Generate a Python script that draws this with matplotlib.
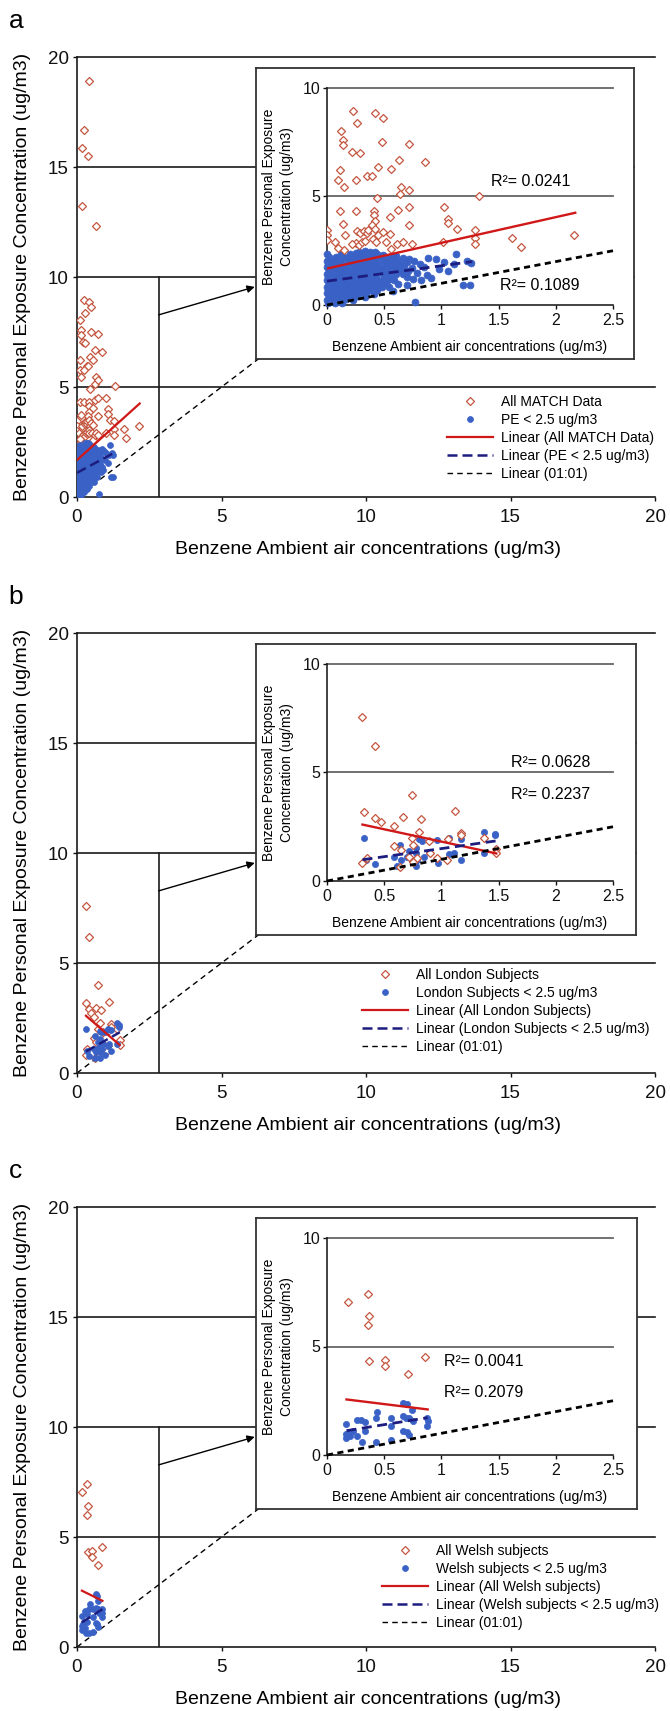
import matplotlib
matplotlib.use('Agg')
import matplotlib.pyplot as plt

plt.rcParams['font.family'] = ['Liberation Sans', 'DejaVu Sans']

W, H = 670, 1711

# ---------------- data ----------------
# Panel a : All MATCH data
a_red = [(0.40, 18.9), (0.23, 16.67), (0.17, 15.88), (0.37, 15.5), (0.17, 13.24), (0.67, 12.34),
         (0.23, 8.94), (0.42, 8.87), (0.49, 8.64), (0.26, 8.38), (0.12, 8.03), (0.14, 7.6), (0.14, 7.37),
         (0.48, 7.52), (0.72, 7.4), (0.22, 7.06), (0.29, 7.0), (0.63, 6.68), (0.86, 6.6), (0.45, 6.38),
         (0.56, 6.25), (0.11, 6.22), (0.35, 5.96), (0.39, 5.96), (0.10, 5.76), (0.25, 5.76), (0.145, 5.46),
         (0.65, 5.46), (0.64, 5.12), (0.72, 5.3), (0.44, 4.92), (1.33, 5.03), (0.11, 4.31), (0.25, 4.31),
         (0.41, 4.31), (0.41, 4.13), (0.62, 4.39), (0.72, 4.51), (1.02, 4.51), (0.14, 3.75), (0.42, 3.85),
         (0.55, 4.04), (1.06, 3.98), (1.06, 3.79), (0.72, 3.67), (1.14, 3.49), (1.29, 3.44), (1.29, 3.09),
         (1.29, 2.81), (0.0, 3.44), (0.0, 3.21), (0.0, 2.98), (1.62, 3.07), (1.70, 2.66), (2.16, 3.22),
         (0.07, 2.9), (0.16, 3.21), (0.26, 3.4), (0.29, 3.3), (0.32, 3.42), (0.35, 3.33), (0.36, 3.45),
         (0.25, 2.86), (0.22, 2.8), (0.28, 2.78), (0.31, 2.9), (0.33, 2.97), (0.39, 3.67), (0.42, 3.52),
         (0.45, 3.21), (0.49, 3.37), (0.55, 3.29), (0.40, 3.06), (0.43, 2.9), (0.52, 2.9), (0.15, 2.52),
         (0.10, 2.63), (0.56, 2.57), (0.61, 2.83), (0.66, 2.9), (0.74, 2.83), (1.01, 2.9)]

a_blue = [(0.28, 2.45), (0.33, 2.47), (0.38, 2.44), (0.42, 2.42),
          (0.0, 2.33), (0.12, 2.36), (0.2, 2.34), (0.25, 2.38), (0.31, 2.35), (0.36, 2.36), (0.44, 2.33),
          (0.49, 2.3), (0.6, 2.28),
          (0.02, 2.2), (0.08, 2.22), (0.15, 2.19), (0.22, 2.21), (0.27, 2.2), (0.34, 2.22), (0.4, 2.18),
          (0.47, 2.2), (0.53, 2.17), (0.58, 2.2), (0.66, 2.15), (0.72, 2.12),
          (0.0, 2.05), (0.05, 2.06), (0.11, 2.04), (0.18, 2.07), (0.24, 2.05), (0.3, 2.03), (0.37, 2.06),
          (0.43, 2.04), (0.5, 2.05), (0.56, 2.02), (0.62, 2.04), (0.7, 2.0), (0.76, 2.01),
          (0.01, 1.9), (0.07, 1.91), (0.13, 1.89), (0.2, 1.92), (0.26, 1.9), (0.33, 1.88), (0.39, 1.91),
          (0.45, 1.9), (0.52, 1.87), (0.59, 1.9), (0.65, 1.86), (0.68, 1.93),
          (0.0, 1.75), (0.04, 1.76), (0.1, 1.74), (0.16, 1.77), (0.23, 1.75), (0.29, 1.73), (0.35, 1.76),
          (0.41, 1.75), (0.48, 1.72), (0.55, 1.75), (0.61, 1.74), (0.67, 1.7), (0.74, 1.72),
          (0.02, 1.6), (0.08, 1.61), (0.14, 1.59), (0.2, 1.62), (0.27, 1.6), (0.32, 1.58), (0.38, 1.61),
          (0.44, 1.6), (0.51, 1.57), (0.57, 1.6), (0.63, 1.58), (0.71, 1.55),
          (0.0, 1.45), (0.05, 1.46), (0.11, 1.44), (0.17, 1.47), (0.24, 1.45), (0.3, 1.43), (0.36, 1.46),
          (0.42, 1.45), (0.49, 1.42), (0.54, 1.45), (0.6, 1.44), (0.66, 1.41),
          (0.01, 1.3), (0.07, 1.31), (0.13, 1.29), (0.19, 1.32), (0.25, 1.3), (0.31, 1.28), (0.37, 1.31),
          (0.43, 1.3), (0.5, 1.27), (0.56, 1.3), (0.7, 1.28),
          (0.0, 1.15), (0.04, 1.16), (0.1, 1.14), (0.16, 1.17), (0.22, 1.15), (0.28, 1.13), (0.34, 1.16),
          (0.4, 1.15), (0.46, 1.12), (0.53, 1.15), (0.59, 1.13), (0.82, 1.14),
          (0.02, 1.0), (0.08, 1.01), (0.14, 0.99), (0.2, 1.02), (0.26, 1.0), (0.32, 0.98), (0.38, 1.01),
          (0.44, 1.0), (0.51, 0.97), (0.62, 0.99),
          (0.0, 0.85), (0.05, 0.86), (0.11, 0.84), (0.17, 0.87), (0.23, 0.85), (0.29, 0.83), (0.35, 0.86),
          (0.41, 0.85), (0.48, 0.82), (0.54, 0.84),
          (0.01, 0.7), (0.07, 0.71), (0.13, 0.69), (0.19, 0.72), (0.25, 0.7), (0.31, 0.68), (0.37, 0.71),
          (0.44, 0.69), (0.58, 0.66),
          (0.0, 0.55), (0.04, 0.56), (0.1, 0.54), (0.16, 0.57), (0.22, 0.55), (0.28, 0.53), (0.34, 0.54),
          (0.41, 0.52),
          (0.02, 0.4), (0.08, 0.41), (0.14, 0.39), (0.2, 0.42), (0.26, 0.4), (0.33, 0.38),
          (0.0, 0.25), (0.05, 0.26), (0.11, 0.24), (0.17, 0.27), (0.23, 0.25),
          (0.01, 0.1), (0.07, 0.11), (0.13, 0.09),
          (0.88, 2.17), (0.87, 1.38), (0.98, 1.68), (1.02, 1.99), (1.06, 1.56), (0.91, 1.25), (1.13, 2.37),
          (1.11, 1.91), (1.19, 0.92), (1.25, 0.92), (0.77, 0.15), (0.79, 1.48), (0.81, 1.91), (1.22, 2.02),
          (1.26, 1.93), (0.75, 1.2), (0.7, 0.9), (0.65, 1.75), (0.85, 1.75), (0.95, 2.1)]

a_red_line_x = [0.0, 2.17]
a_red_line_y = [1.68, 4.25]
a_blue_line_x = [0.0, 1.27]
a_blue_line_y = [1.10, 2.00]
a_r2 = ['R²= 0.0241', 'R²= 0.1089']
a_labels = ['All MATCH Data', 'PE < 2.5 ug/m3', 'Linear (All MATCH Data)',
            'Linear (PE < 2.5 ug/m3)', 'Linear (01:01)']

# Panel b : London subjects
b_red = [(0.31, 7.57), (0.42, 6.2), (0.74, 3.98), (0.32, 3.19), (1.12, 3.24), (0.42, 2.92), (0.47, 2.73),
         (0.66, 2.96), (0.82, 2.85), (0.59, 2.55), (0.80, 2.27), (1.17, 2.23), (1.17, 2.1), (1.37, 1.98),
         (0.74, 1.98), (0.89, 1.85), (0.75, 1.68), (0.59, 1.6), (1.06, 1.92), (0.65, 1.42), (0.90, 1.31),
         (1.48, 1.48), (1.48, 1.27), (0.35, 1.08), (0.31, 0.81), (0.72, 1.11), (0.79, 1.04), (0.75, 0.89),
         (0.96, 1.07), (1.05, 0.99), (0.64, 0.66)]
b_blue = [(0.32, 1.98), (0.34, 0.99), (0.42, 0.79), (0.59, 1.11), (0.64, 1.68), (0.65, 0.96), (0.61, 0.69),
          (0.72, 1.39), (0.78, 1.54), (0.80, 1.92), (0.78, 1.3), (0.79, 0.96), (0.78, 0.70), (0.85, 1.11),
          (0.89, 1.34), (0.96, 1.88), (0.97, 0.84), (1.07, 2.0), (1.07, 1.24), (1.11, 1.3), (1.17, 1.95),
          (1.17, 0.99), (1.37, 2.26), (1.37, 1.3), (1.47, 2.18), (1.47, 2.11), (0.70, 1.11), (0.83, 1.85)]
b_red_line_x = [0.31, 1.48]
b_red_line_y = [2.60, 1.27]
b_blue_line_x = [0.31, 1.48]
b_blue_line_y = [0.98, 1.85]
b_r2 = ['R²= 0.0628', 'R²= 0.2237']
b_labels = ['All London Subjects', 'London Subjects < 2.5 ug/m3', 'Linear (All London Subjects)',
            'Linear (London Subjects < 2.5 ug/m3)', 'Linear (01:01)']

# Panel c : Welsh subjects
c_red = [(0.18, 7.05), (0.36, 7.43), (0.37, 6.39), (0.36, 6.0), (0.37, 4.31), (0.51, 4.36), (0.51, 4.09),
         (0.86, 4.53), (0.71, 3.75)]
c_blue = [(0.17, 1.43), (0.17, 0.96), (0.17, 0.78), (0.20, 0.88), (0.23, 1.12), (0.26, 1.63), (0.26, 0.88),
          (0.30, 1.61), (0.31, 0.62), (0.33, 1.5), (0.33, 1.12), (0.43, 1.71), (0.44, 1.97), (0.43, 0.62),
          (0.56, 1.71), (0.56, 1.35), (0.56, 0.68), (0.66, 2.4), (0.70, 2.33), (0.66, 1.78), (0.69, 1.71),
          (0.74, 2.08), (0.72, 1.71), (0.75, 1.55), (0.70, 1.04), (0.72, 0.93), (0.87, 1.71), (0.88, 1.55),
          (0.87, 1.35), (0.20, 1.04), (0.66, 1.09)]
c_red_line_x = [0.17, 0.88]
c_red_line_y = [2.56, 2.10]
c_blue_line_x = [0.17, 0.88]
c_blue_line_y = [1.12, 1.72]
c_r2 = ['R²= 0.0041', 'R²= 0.2079']
c_labels = ['All Welsh subjects', 'Welsh subjects < 2.5 ug/m3', 'Linear (All Welsh subjects)',
            'Linear (Welsh subjects < 2.5 ug/m3)', 'Linear (01:01)']

one_to_one_main = [0.0, 10.0]
one_to_one_inset = [0.0, 2.5]
main_ticks = [0, 5, 10, 15, 20]
inset_xticks = [0, 0.5, 1, 1.5, 2, 2.5]
inset_yticks = [0, 5, 10]

RED_PT = '#c4573f'
BLUE_PT = '#3a62c6'
RED_LN = '#d01818'
NAVY = '#1d1d80'
GRID = '#1a1a1a'
IGRID = '#666666'

fig = plt.figure(figsize=(W / 100, H / 100), dpi=100)


def px_axes(l, t, r, b, **kw):
    return fig.add_axes([l / W, 1 - b / H, (r - l) / W, (b - t) / H], **kw)


def draw_panel(top, letter, red, blue, rlx, rly, blx, bly, r2, r2pos, labels,
               box_right, cover_right, legend_xy, blue_ms):
    bottom = top + 440
    ax = px_axes(77, top, 655, bottom)
    ax.set_xlim(0, 20)
    ax.set_ylim(0, 20)
    for s in ('top', 'right'):
        ax.spines[s].set_visible(False)
    for s in ('left', 'bottom'):
        ax.spines[s].set_linewidth(1.2)
        ax.spines[s].set_color(GRID)
    ax.set_xticks(main_ticks)
    ax.set_yticks(main_ticks)
    ax.tick_params(axis='both', labelsize=13.5, length=3, width=1, direction='out', colors='#111111')
    ax.tick_params(axis='x', pad=6)
    ax.tick_params(axis='y', pad=3)
    for yv in main_ticks[1:]:
        ax.axhline(yv, color=GRID, lw=1.2, zorder=1, clip_on=False)
    # zoom rectangle edge
    ax.plot([2.83, 2.83], [0, 10], color=GRID, lw=1.2, zorder=1)
    ax.annotate('', xy=(6.15, 9.55), xytext=(2.83, 8.28),
                arrowprops=dict(arrowstyle='-|>', color='black', lw=1.0, mutation_scale=11,
                                shrinkA=0, shrinkB=0))
    rx, ry = zip(*red)
    bx, by = zip(*blue)
    h1, = ax.plot(rx, ry, ls='none', marker='D', ms=4.2, mfc='white', mec=RED_PT, mew=0.9, zorder=3)
    h2, = ax.plot(bx, by, ls='none', marker='o', ms=4.3, mfc=BLUE_PT, mec=BLUE_PT, mew=0.5, zorder=4)
    h3, = ax.plot(rlx, rly, color=RED_LN, lw=1.6, zorder=5)
    h4, = ax.plot(blx, bly, color=NAVY, lw=1.8, dashes=(4, 2), zorder=5)
    h5, = ax.plot(one_to_one_main, one_to_one_main, color='black', lw=1.0, dashes=(4, 3), zorder=2)
    ax.legend([h1, h2, h3, h4, h5], labels, loc='upper left',
              bbox_to_anchor=(legend_xy[0] / W, 1 - (legend_xy[1] - 8) / H),
              bbox_transform=fig.transFigure, frameon=False, fontsize=10,
              handlelength=3.3, handletextpad=0.6, labelspacing=0.28, borderpad=0,
              borderaxespad=0, numpoints=1)

    fig.text(23 / W, 1 - (top + 220) / H, 'Benzene Personal Exposure Concentration (ug/m3)',
             rotation=90, ha='center', va='center', fontsize=14)
    fig.text(368 / W, 1 - (bottom + 53) / H, 'Benzene Ambient air concentrations (ug/m3)',
             ha='center', va='center', fontsize=14)
    fig.text(16 / W, 1 - (top - 36) / H, letter, ha='center', va='center', fontsize=19)

    # inset box
    box = px_axes(256, top + 11, box_right, top + 302)
    box.set_xticks([])
    box.set_yticks([])
    box.set_facecolor('white')
    for s in box.spines.values():
        s.set_linewidth(1.3)
        s.set_color('#333333')
    if cover_right:
        box.add_patch(plt.Rectangle((1.003, -0.01), 0.2, 1.02, transform=box.transAxes,
                                    fc='white', ec='none', clip_on=False, zorder=0.5))

    ins = px_axes(327, top + 31, 613, top + 248)
    ins.set_facecolor('none')
    ins.set_xlim(0, 2.5)
    ins.set_ylim(0, 10)
    for s in ('top', 'right'):
        ins.spines[s].set_visible(False)
    for s in ('left', 'bottom'):
        ins.spines[s].set_linewidth(1.2)
        ins.spines[s].set_color('#222222')
    ins.set_xticks(inset_xticks)
    ins.set_xticklabels(['0', '0.5', '1', '1.5', '2', '2.5'])
    ins.set_yticks(inset_yticks)
    ins.tick_params(axis='both', labelsize=11.5, length=3, width=1, direction='out', colors='#111111')
    ins.tick_params(axis='x', pad=2.5)
    ins.tick_params(axis='y', pad=1.5)
    for yv in inset_yticks[1:]:
        ins.axhline(yv, color=IGRID, lw=1.3, zorder=1, clip_on=False)
    ins.plot(bx, by, ls='none', marker='o', ms=blue_ms, mfc=BLUE_PT, mec=BLUE_PT, mew=0.5, zorder=3,
             clip_on=False)
    ins.plot(rx, ry, ls='none', marker='D', ms=4.4, mfc='white', mec=RED_PT, mew=0.9, zorder=4)
    ins.plot(rlx, rly, color=RED_LN, lw=1.7, zorder=5)
    ins.plot(blx, bly, color=NAVY, lw=2.0, dashes=(3.6, 2.0), zorder=5)
    ins.plot(one_to_one_inset, one_to_one_inset, color='black', lw=2.0, dashes=(2.2, 1.6), zorder=5,
             clip_on=False)
    for txt, (tx, ty) in zip(r2, r2pos):
        ins.text(tx, ty, txt, ha='left', va='center', fontsize=11.5)
    fig.text(470 / W, 1 - (top + 290) / H, 'Benzene Ambient air concentrations (ug/m3)',
             ha='center', va='center', fontsize=10)
    fig.text(278 / W, 1 - (top + 139.5) / H, 'Benzene Personal Exposure\nConcentration (ug/m3)',
             rotation=90, ha='center', va='center', fontsize=10, linespacing=1.3)


draw_panel(57, 'a', a_red, a_blue, a_red_line_x, a_red_line_y, a_blue_line_x, a_blue_line_y,
           a_r2, [(1.43, 5.69), (1.51, 0.92)], a_labels, 634, True, (447, 403), 5.0)
draw_panel(633, 'b', b_red, b_blue, b_red_line_x, b_red_line_y, b_blue_line_x, b_blue_line_y,
           b_r2, [(1.61, 5.47), (1.61, 3.98)], b_labels, 636, True, (362, 976), 4.5)
draw_panel(1207, 'c', c_red, c_blue, c_red_line_x, c_red_line_y, c_blue_line_x, c_blue_line_y,
           c_r2, [(1.02, 4.33), (1.02, 2.9)], c_labels, 637, False, (382, 1552), 4.5)

fig.savefig('out.png', dpi=100)
